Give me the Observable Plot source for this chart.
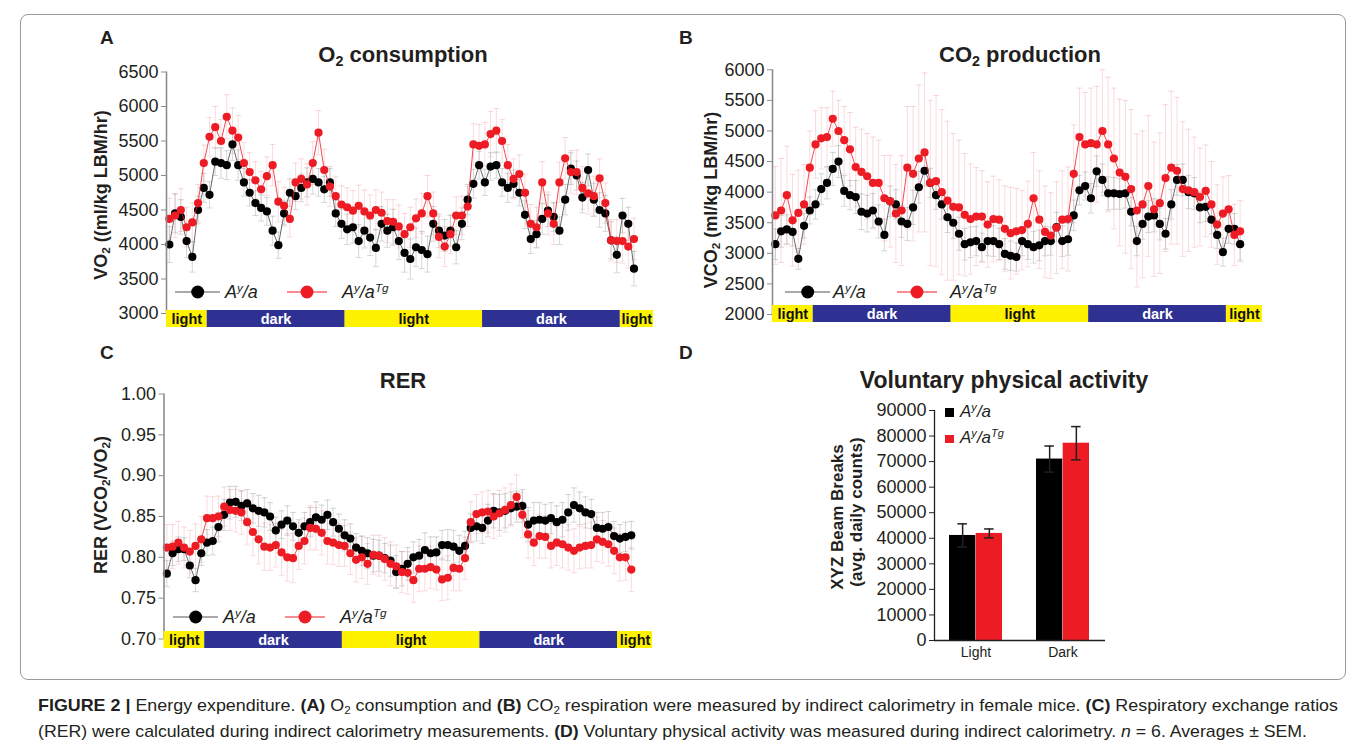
<!DOCTYPE html>
<html><head><meta charset="utf-8">
<script src="https://cdn.jsdelivr.net/npm/d3@7"></script>
<script src="https://cdn.jsdelivr.net/npm/@observablehq/plot@0.6"></script>
<style>
html,body{margin:0;padding:0;background:#fff}
body{width:1360px;height:748px;position:relative;overflow:hidden;font-family:"Liberation Sans",Arial,Helvetica,sans-serif;color:#231f20}
.plotwrap{position:absolute}
.plotwrap svg{display:block;overflow:visible;max-width:none}
.frame{position:absolute;left:20px;top:14px;width:1326px;height:666px;border:1px solid #9a9a9a;border-radius:8px;box-sizing:border-box}
.letter{position:absolute;font-weight:bold;font-size:19px;line-height:1}
.title{position:absolute;font-weight:bold;font-size:22px;line-height:1;white-space:nowrap;transform:translateX(-50%)}
.ylab{position:absolute;font-weight:bold;font-size:18px;white-space:nowrap;line-height:1;transform:translate(-50%,-50%) rotate(-90deg)}
.leg{position:absolute;font-style:italic;font-size:18px;white-space:nowrap;line-height:1}
.cap{position:absolute;font-size:17px;white-space:nowrap;transform-origin:0 0;line-height:1;color:#231f20}
sub{font-size:0.65em;vertical-align:-0.25em;line-height:0}
sup{font-size:0.65em;vertical-align:0.5em;line-height:0}
</style></head><body>
<div class="frame"></div>
<script>
// ---------- data ----------
const hours = [0.25,0.75,1.25,1.75,2.25,2.75,3.25,3.75,4.25,4.75,5.25,5.75,6.25,6.75,7.25,7.75,8.25,8.75,9.25,9.75,10.25,10.75,11.25,11.75,12.25,12.75,13.25,13.75,
14.25,14.75,15.25,15.75,16.25,16.75,17.25,17.75,18.25,18.75,19.25,19.75,20.25,20.75,21.25,21.75,22.25,22.75,23.25,23.75,24.25,24.75,25.25,25.75,26.25,26.75,27.25,27.75,28.25,
28.75,29.25,29.75,30.25,30.75,31.25,31.75,32.25,32.75,33.25,33.75,34.25,34.75,35.25,35.75,36.25,36.75,37.25,37.75,38.25,38.75,39.25,39.75,40.25,40.75];

const vo2Black = [4000,4450,4400,4050,3820,4500,4820,4720,5200,5180,5150,5450,5150,4900,4750,4600,4530,4480,4200,3990,4450,4750,4700,4820,4900,4950,4900,4800,
4900,4450,4300,4220,4250,4050,4200,4100,3950,4300,4200,4250,4050,3880,3790,3960,3920,3860,4300,4200,4130,4200,3960,4300,4650,4880,5150,4900,5130,
5150,4900,4820,4880,4750,4430,4080,4150,4370,4490,4400,4200,4650,5100,5000,4680,5080,4650,4500,4450,4060,3850,4420,4300,3650];
const vo2Red = [4370,4420,4500,4250,4320,4600,5180,5560,5700,5500,5850,5650,5550,5180,5050,4930,4800,4990,5150,4620,4560,4370,4900,4950,4870,5180,5620,5080,
4840,4700,4580,4540,4490,4560,4480,4420,4500,4460,4340,4330,4260,4150,4250,4380,4450,4700,4450,4110,3970,4150,4420,4420,4550,5450,5430,5450,5600,
5650,5500,5150,4950,5020,4750,4300,4250,4900,4450,4300,4900,5250,5050,5050,4820,4740,4700,4960,4600,4060,4050,4050,3970,4080];
const vo2BlackSem = [260,280,250,240,220,200,210,190,200,220,210,230,220,200,190,180,190,200,210,190,180,200,190,200,210,220,200,190,
200,190,210,220,230,240,250,260,270,250,240,260,270,280,290,280,270,260,250,240,230,220,240,230,220,210,200,190,200,
190,200,210,200,190,200,210,200,220,230,210,200,220,230,210,220,230,240,250,260,270,260,250,240,250];
const vo2RedSem = [300,320,310,290,280,270,260,280,300,310,320,330,320,300,280,270,260,280,300,290,270,260,280,290,300,310,320,300,
290,280,270,280,290,300,310,300,290,300,310,320,310,300,290,280,290,300,310,300,290,280,270,280,290,300,310,320,330,
320,310,300,290,280,270,280,290,300,310,300,290,300,310,320,310,300,290,280,290,300,310,320,310,300];

const vco2Black = [3150,3360,3390,3350,2910,3450,3700,3800,4050,4150,4380,4500,4020,3950,3920,3680,3650,3700,3520,3300,3850,3800,3520,3480,3750,4080,4350,4150,
3950,3800,3590,3500,3320,3150,3180,3200,3100,3200,3200,3150,2990,2960,2940,3200,3150,3100,3130,3200,3200,3430,3200,3230,3620,4030,4100,3900,4340,
4200,3980,3980,3970,3980,3680,3200,3480,3600,3620,3480,3320,3800,4200,4200,4000,3980,3750,3760,3550,3300,3020,3400,3400,3150];
const vco2Red = [3620,3700,3950,3540,3660,3800,4400,4780,4880,4900,5200,5000,4850,4700,4410,4330,4260,4150,4150,3900,3850,3650,3700,4400,4300,4550,4650,4150,
4180,4000,3860,3760,3750,3630,3560,3600,3600,3470,3560,3550,3400,3330,3360,3380,3480,3900,3550,3350,3290,3420,3550,3560,4300,4900,4780,4800,4780,
5000,4780,4550,4320,4250,4050,3700,3800,4100,3720,3820,4230,4400,4350,4050,4030,4000,3920,4020,3800,3470,3650,3720,3300,3360];
const vco2BlackSem = [250,260,240,230,170,200,220,240,250,260,270,260,250,240,270,290,300,280,270,260,250,240,260,270,280,260,250,240,
230,240,250,260,270,260,250,240,230,240,250,260,250,240,230,240,250,260,250,240,230,240,250,260,250,240,230,240,250,
260,270,260,250,240,230,240,250,260,270,260,250,240,250,260,270,260,250,240,230,220,230,240,250,260];
const vco2RedSem = [800,850,800,750,700,650,600,550,500,480,450,500,550,600,650,700,700,750,700,700,750,800,900,1000,1100,1200,1300,1350,
1400,1350,1300,1200,1100,1000,900,800,750,700,700,650,700,750,700,650,700,750,800,750,700,750,800,850,800,800,850,900,950,
1000,1100,1150,1200,1250,1300,1250,1200,1150,1100,1150,1200,1250,1200,1100,1000,900,800,750,700,650,600,550,500,500];

const rerBlack = [0.780,0.805,0.810,0.810,0.790,0.772,0.805,0.818,0.820,0.837,0.852,0.867,0.868,0.863,0.866,0.860,0.857,0.855,0.850,0.833,0.840,0.845,0.838,0.830,0.838,0.843,0.849,0.846,
0.852,0.843,0.835,0.827,0.823,0.812,0.808,0.805,0.802,0.802,0.799,0.796,0.782,0.786,0.792,0.800,0.802,0.809,0.805,0.806,0.815,0.815,0.813,0.808,0.814,0.836,0.838,0.836,0.845,
0.857,0.855,0.857,0.860,0.862,0.863,0.840,0.845,0.846,0.845,0.848,0.843,0.846,0.855,0.864,0.860,0.855,0.853,0.836,0.835,0.837,0.826,0.823,0.825,0.827];
const rerRed = [0.812,0.813,0.818,0.812,0.807,0.814,0.822,0.848,0.848,0.850,0.862,0.858,0.857,0.855,0.843,0.831,0.822,0.813,0.812,0.815,0.806,0.800,0.799,0.814,0.820,0.836,0.835,0.830,
0.820,0.818,0.815,0.814,0.805,0.797,0.800,0.792,0.803,0.802,0.798,0.792,0.789,0.782,0.781,0.772,0.786,0.786,0.788,0.785,0.773,0.775,0.787,0.786,0.799,0.843,0.853,0.855,0.856,
0.850,0.854,0.858,0.864,0.874,0.852,0.828,0.818,0.826,0.825,0.814,0.818,0.816,0.812,0.808,0.812,0.814,0.815,0.822,0.819,0.816,0.808,0.800,0.800,0.785];
const rerBlackSem = [0.016,0.015,0.015,0.014,0.015,0.014,0.015,0.016,0.017,0.018,0.019,0.020,0.019,0.018,0.017,0.018,0.019,0.018,0.017,0.016,0.017,0.018,0.017,0.016,0.017,0.018,0.019,0.018,
0.018,0.017,0.018,0.019,0.018,0.017,0.018,0.019,0.020,0.019,0.018,0.019,0.020,0.021,0.020,0.019,0.020,0.021,0.020,0.019,0.018,0.019,0.020,0.019,0.018,0.017,0.018,0.019,0.020,
0.021,0.022,0.021,0.020,0.019,0.020,0.021,0.022,0.021,0.020,0.019,0.020,0.021,0.022,0.021,0.020,0.019,0.018,0.019,0.020,0.019,0.018,0.017,0.018,0.017];
const rerRedSem = [0.028,0.027,0.026,0.025,0.026,0.027,0.028,0.027,0.026,0.025,0.024,0.025,0.026,0.027,0.028,0.029,0.030,0.029,0.028,0.027,0.028,0.029,0.030,0.029,0.028,0.027,0.026,0.027,
0.028,0.027,0.026,0.025,0.026,0.027,0.026,0.025,0.024,0.025,0.026,0.027,0.026,0.025,0.026,0.027,0.028,0.027,0.026,0.025,0.026,0.027,0.028,0.027,0.026,0.025,0.024,0.025,0.026,
0.027,0.028,0.027,0.026,0.027,0.028,0.029,0.028,0.027,0.026,0.027,0.028,0.029,0.028,0.027,0.026,0.027,0.028,0.027,0.026,0.027,0.028,0.029,0.028,0.027];

const phaseLabel = ["light","dark","light","dark","light"];
const phaseStart = [0, 3.55, 15.55, 27.55, 39.55];
const phaseEnd = [3.55, 15.55, 27.55, 39.55, null]; // null = until end of recording

const vo2Ticks = [3000,3500,4000,4500,5000,5500,6000,6500];
const vco2Ticks = [2000,2500,3000,3500,4000,4500,5000,5500,6000];
const rerTicks = [0.70,0.75,0.80,0.85,0.90,0.95,1.00];

const activityGroups = ["Light","Dark"];
const activityBlack = [41100, 71000];
const activityRed = [41900, 77200];
const activityBlackSem = [4550, 5100];
const activityRedSem = [1750, 6500];
const activityTicks = [0,10000,20000,30000,40000,50000,60000,70000,80000,90000];

// ---------- helpers ----------
const FONT = '"Liberation Sans", Arial, Helvetica, sans-serif';
const RED = "#ed1c24";
const capSymbol = {draw(ctx, size){ const r = Math.sqrt(size/Math.PI); ctx.moveTo(-r,0); ctx.lineTo(r,0); }};

function mount(node, left, top){
  const d = document.createElement("div");
  d.className = "plotwrap"; d.style.left = left+"px"; d.style.top = top+"px";
  d.appendChild(node); document.body.appendChild(d);
}
function series(vals, sem){ return hours.map((h,i)=>({h, v: vals[i], lo: vals[i]-sem[i], hi: vals[i]+sem[i]})); }
function errMarks(D, color, op){
  return [
    Plot.ruleX(D, {x:"h", y1:"lo", y2:"hi", stroke: color, strokeOpacity: op, strokeWidth: 0.9}),
    Plot.dot(D, {x:"h", y:"lo", symbol: capSymbol, r: 3, fill: "none", stroke: color, strokeOpacity: op, strokeWidth: 0.9}),
    Plot.dot(D, {x:"h", y:"hi", symbol: capSymbol, r: 3, fill: "none", stroke: color, strokeOpacity: op, strokeWidth: 0.9})
  ];
}
function tsPanel(o){
  const B = series(o.black, o.semB), R = series(o.red, o.semR);
  const main = Plot.plot({
    width: o.w, height: o.h, marginLeft: o.mL, marginRight: o.mR, marginTop: o.mT, marginBottom: o.mB,
    style: {background: "transparent", fontFamily: FONT, fontSize: "18px", color: "#231f20", overflow: "visible"},
    x: {domain: [0, o.xMax], axis: null},
    y: {domain: o.yDomain},
    marks: [
      ...errMarks(R, "#f08a90", 0.35),
      ...errMarks(B, "#9a9a9a", 0.45),
      Plot.line(B, {x:"h", y:"v", stroke:"#444", strokeWidth: 0.8}),
      Plot.dot(B, {x:"h", y:"v", r: 4.1, fill: "#000"}),
      Plot.line(R, {x:"h", y:"v", stroke: RED, strokeWidth: 0.8}),
      Plot.dot(R, {x:"h", y:"v", r: 4.1, fill: RED}),
      Plot.ruleX([0], {stroke: "#8c8c8c", strokeWidth: 1.6}),
      Plot.axisY(o.yTicks, {tickSize: 5, tickPadding: 3, tickFormat: o.fmt, label: null, stroke: "#8c8c8c", fill: "#231f20"})
    ]
  });
  mount(main, o.left, o.top);
  const ph = phaseLabel.map((l,i)=>({l, s: phaseStart[i], e: phaseEnd[i] == null ? o.xMax : phaseEnd[i]}));
  const strip = Plot.plot({
    width: o.w, height: 17, marginLeft: o.mL, marginRight: o.mR, marginTop: 0, marginBottom: 0,
    style: {background: "transparent", fontFamily: FONT, overflow: "visible"},
    x: {domain: [0, o.xMax], axis: null},
    marks: [
      Plot.rect(ph.filter(d=>d.l==="light"), {x1:"s", x2:"e", fill:"#fff200"}),
      Plot.rect(ph.filter(d=>d.l==="dark"), {x1:"s", x2:"e", fill:"#2e3192"}),
      Plot.text(ph.filter(d=>d.l==="light"), {x: d=>(d.s+d.e)/2, text:"l", fill:"#111", fontWeight:"bold", fontSize: 14.5}),
      Plot.text(ph.filter(d=>d.l==="dark"), {x: d=>(d.s+d.e)/2, text:"l", fill:"#fff", fontWeight:"bold", fontSize: 14.5})
    ]
  });
  mount(strip, o.left, o.stripTop);
}

// Panel A
tsPanel({left:0, top:40, w:680, h:290, mL:166, mR:27, mT:31.5, mB:17, xMax:42.45, stripTop:310,
  yDomain:[3000,6500], yTicks: vo2Ticks, fmt: d3.format("d"), black: vo2Black, red: vo2Red, semB: vo2BlackSem, semR: vo2RedSem});
// Panel B
tsPanel({left:680, top:40, w:600, h:290, mL:92, mR:18, mT:29.3, mB:16, xMax:42.7, stripTop:305,
  yDomain:[2000,6000], yTicks: vco2Ticks, fmt: d3.format("d"), black: vco2Black, red: vco2Red, semB: vco2BlackSem, semR: vco2RedSem});
// Panel C
tsPanel({left:0, top:360, w:680, h:290, mL:163.5, mR:28, mT:33.5, mB:11.5, xMax:42.6, stripTop:631,
  yDomain:[0.70,1.00], yTicks: rerTicks, fmt: d3.format(".2f"), black: rerBlack, red: rerRed, semB: rerBlackSem, semR: rerRedSem});

// Panel D
{
  const D = activityGroups.map((g,i)=>({g, b: activityBlack[i], bs: activityBlackSem[i], r: activityRed[i], rs: activityRedSem[i]}));
  const half = 26.7, capIn = 8.4;
  const plotD = Plot.plot({
    width: 380, height: 290, marginLeft: 144, marginRight: 65, marginTop: 30, marginBottom: 30,
    style: {background: "transparent", fontFamily: FONT, fontSize: "18px", color: "#231f20", overflow: "visible"},
    x: {domain: activityGroups, paddingInner: 0.388, paddingOuter: 0.1735},
    y: {domain: [0, 90000]},
    marks: [
      Plot.barY(D, {x:"g", y:"b", fill:"#000", insetRight: half}),
      Plot.barY(D, {x:"g", y:"r", fill: RED, insetLeft: half}),
      Plot.ruleX(D, {x:"g", y1: d=>d.b-d.bs, y2: d=>d.b+d.bs, dx: -half/2, stroke:"#231f20", strokeWidth: 1.5}),
      Plot.ruleX(D, {x:"g", y1: d=>d.r-d.rs, y2: d=>d.r+d.rs, dx: half/2, stroke:"#231f20", strokeWidth: 1.5}),
      Plot.tickY(D, {x:"g", y: d=>d.b+d.bs, insetLeft: capIn, insetRight: half+capIn, stroke:"#231f20", strokeWidth: 1.5}),
      Plot.tickY(D, {x:"g", y: d=>d.b-d.bs, insetLeft: capIn, insetRight: half+capIn, stroke:"#231f20", strokeWidth: 1.5}),
      Plot.tickY(D, {x:"g", y: d=>d.r+d.rs, insetLeft: half+capIn, insetRight: capIn, stroke:"#231f20", strokeWidth: 1.5}),
      Plot.tickY(D, {x:"g", y: d=>d.r-d.rs, insetLeft: half+capIn, insetRight: capIn, stroke:"#231f20", strokeWidth: 1.5}),
      Plot.ruleY([0], {stroke:"#231f20", strokeWidth: 1.3}),
      Plot.frame({anchor: "left", stroke:"#231f20", strokeWidth: 1.3}),
      Plot.axisY(activityTicks, {tickSize: 5, tickPadding: 3, tickFormat: d3.format("d"), label: null, stroke:"#231f20", fill:"#231f20"}),
      Plot.axisX({tickSize: 0, tickPadding: 7, fontSize: 14, label: null, fill:"#231f20"})
    ]
  });
  mount(plotD, 790, 380);
}
</script>

<!-- panel letters -->
<div class="letter" style="left:100px;top:27.5px">A</div>
<div class="letter" style="left:679px;top:27.5px">B</div>
<div class="letter" style="left:100px;top:342.5px">C</div>
<div class="letter" style="left:679px;top:342.5px">D</div>

<!-- titles -->
<div class="title" style="left:403px;top:44px">O<sub>2</sub> consumption</div>
<div class="title" style="left:1020px;top:44px">CO<sub>2</sub> production</div>
<div class="title" style="left:403px;top:370px">RER</div>
<div class="title" style="left:1004px;top:368.5px;font-size:23px">Voluntary physical activity</div>

<!-- y labels -->
<div class="ylab" style="left:101px;top:195px">VO<sub>2</sub> ((ml/kg LBM/hr)</div>
<div class="ylab" style="left:711px;top:200px">VCO<sub>2</sub> (ml/kg LBM/hr)</div>
<div class="ylab" style="left:101px;top:505px">RER (VCO<sub>2</sub>/VO<sub>2</sub>)</div>
<div class="ylab" style="left:836.5px;top:517px;font-size:17px">XYZ Beam Breaks</div>
<div class="ylab" style="left:855.5px;top:512px;font-size:17px">(avg. daily counts)</div>

<!-- legends -->
<svg style="position:absolute;left:0;top:0;overflow:visible" width="1360" height="748">
  <g id="legA" transform="translate(175,292)"></g>
  <g id="legB" transform="translate(785,292)"></g>
  <g id="legC" transform="translate(173,617)"></g>
</svg>
<div class="leg" style="left:225px;top:283px">A<sup>y</sup>/a</div>
<div class="leg" style="left:342px;top:283px">A<sup>y</sup>/a<sup>Tg</sup></div>
<div class="leg" style="left:833px;top:283px">A<sup>y</sup>/a</div>
<div class="leg" style="left:950px;top:283px">A<sup>y</sup>/a<sup>Tg</sup></div>
<div class="leg" style="left:223px;top:608px">A<sup>y</sup>/a</div>
<div class="leg" style="left:340px;top:608px">A<sup>y</sup>/a<sup>Tg</sup></div>

<!-- D legend -->
<div style="position:absolute;left:945px;top:408px;width:8.5px;height:8.5px;background:#000"></div>
<div style="position:absolute;left:945px;top:434.5px;width:8.5px;height:8.5px;background:#ed1c24"></div>
<div class="leg" style="left:960px;top:403px;font-size:17px">A<sup>y</sup>/a</div>
<div class="leg" style="left:960px;top:429px;font-size:17px">A<sup>y</sup>/a<sup>Tg</sup></div>

<!-- caption -->
<div class="cap" id="cap1" style="left:38px;top:696.5px"><b>FIGURE 2 |</b> Energy expenditure. <b>(A)</b> O<sub>2</sub> consumption and <b>(B)</b> CO<sub>2</sub> respiration were measured by indirect calorimetry in female mice. <b>(C)</b> Respiratory exchange ratios</div>
<div class="cap" id="cap2" style="left:38px;top:722.5px">(RER) were calculated during indirect calorimetry measurements. <b>(D)</b> Voluntary physical activity was measured during indirect calorimetry. <i>n</i> = 6. Averages ± SEM.</div>

<script>
// legend glyphs
for (const id of ["legA","legB","legC"]) {
  const g = document.getElementById(id);
  g.innerHTML = '<line x1="0" x2="45" y1="0" y2="0" stroke="#555" stroke-width="1"/>' +
    '<circle cx="22.7" cy="0" r="6.5" fill="#000"/>' +
    '<line x1="112" x2="152" y1="0" y2="0" stroke="#ed1c24" stroke-width="1"/>' +
    '<circle cx="132" cy="0" r="6.5" fill="#ed1c24"/>';
}
function fit(id, target){
  const el = document.getElementById(id);
  el.style.transform = "none";
  const w = el.getBoundingClientRect().width;
  el.style.transform = "scaleX(" + (target / w) + ")";
}
function fitAll(){ fit("cap1", 1300); fit("cap2", 1269); }
fitAll();
if (document.fonts && document.fonts.ready) document.fonts.ready.then(fitAll);
</script>
</body></html>
